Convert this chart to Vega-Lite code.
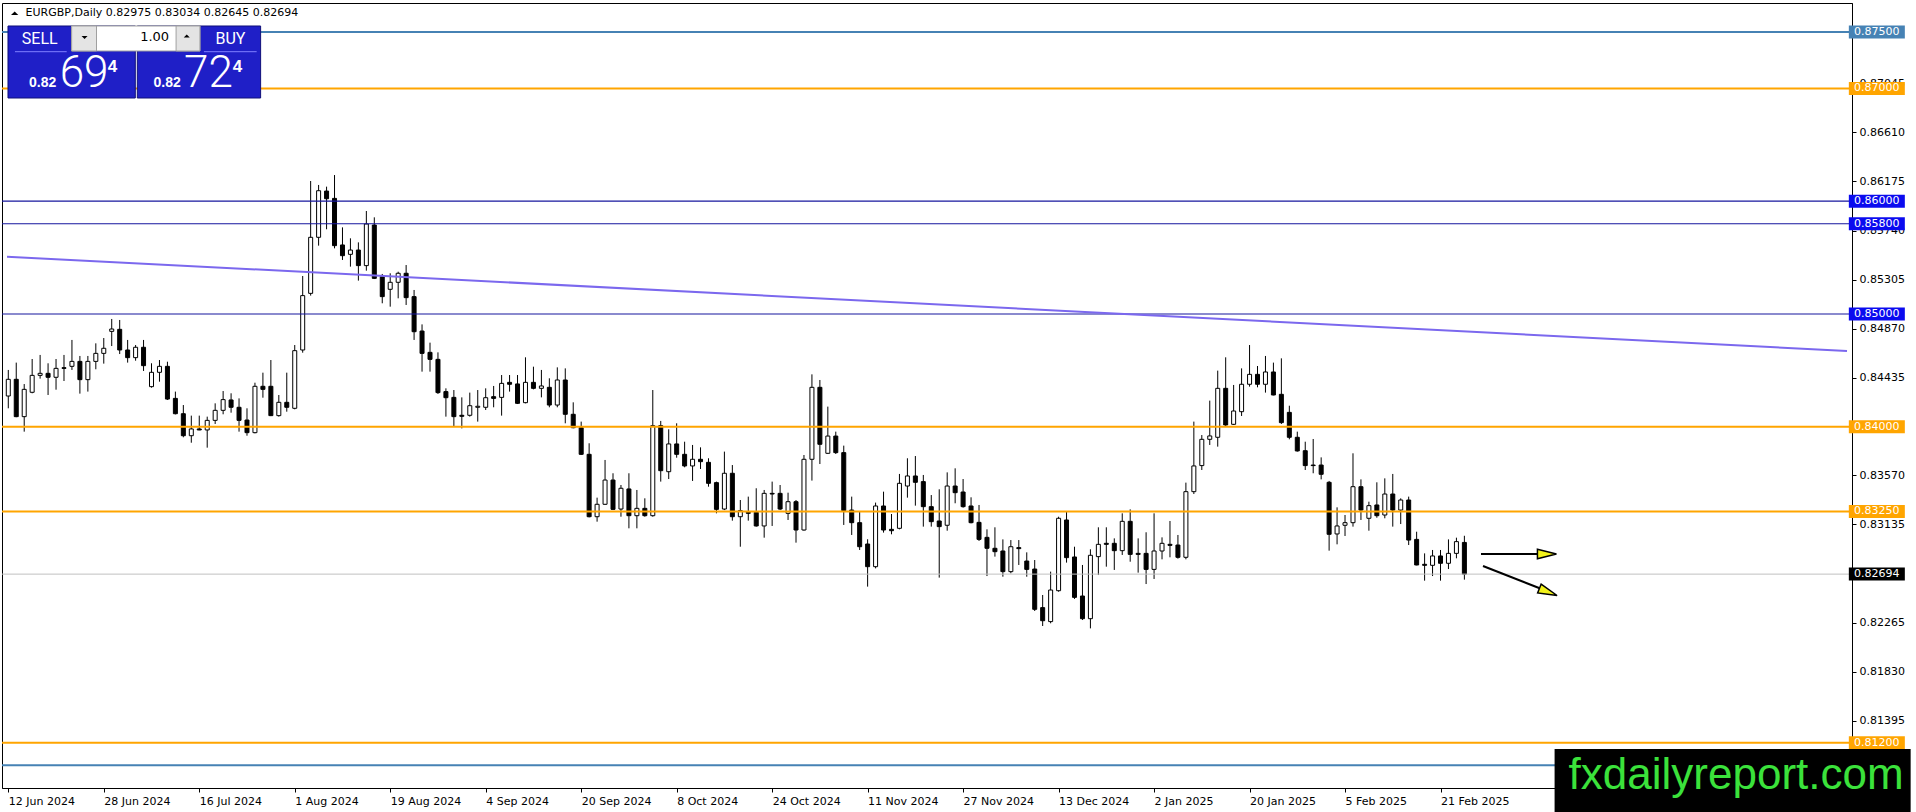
{
"$schema": "https://vega.github.io/schema/vega-lite/v6.json",
"width": 1850,
"height": 785,
"autosize": {"type": "none"},
"padding": {"left": 2, "top": 3, "right": 64, "bottom": 24},
"background": "white",
"config": {"view": {"stroke": "black", "strokeWidth": 1}, "font": "DejaVu Sans"},
"datasets": {
"candles": [
{"d":"2024-06-12","o":0.84273,"h":0.84504,"l":0.84164,"c":0.84421},
{"d":"2024-06-13","o":0.84421,"h":0.84569,"l":0.84085,"c":0.84090},
{"d":"2024-06-14","o":0.84090,"h":0.84379,"l":0.83957,"c":0.84332},
{"d":"2024-06-17","o":0.84306,"h":0.84601,"l":0.84297,"c":0.84456},
{"d":"2024-06-18","o":0.84456,"h":0.84637,"l":0.84427,"c":0.84474},
{"d":"2024-06-19","o":0.84474,"h":0.84563,"l":0.84282,"c":0.84439},
{"d":"2024-06-20","o":0.84439,"h":0.84601,"l":0.84329,"c":0.84518},
{"d":"2024-06-21","o":0.84524,"h":0.84637,"l":0.84406,"c":0.84518},
{"d":"2024-06-24","o":0.84536,"h":0.84770,"l":0.84504,"c":0.84580},
{"d":"2024-06-25","o":0.84580,"h":0.84628,"l":0.84294,"c":0.84418},
{"d":"2024-06-26","o":0.84418,"h":0.84628,"l":0.84312,"c":0.84580},
{"d":"2024-06-27","o":0.84580,"h":0.84740,"l":0.84510,"c":0.84651},
{"d":"2024-06-28","o":0.84651,"h":0.84787,"l":0.84560,"c":0.84696},
{"d":"2024-07-01","o":0.84846,"h":0.84956,"l":0.84716,"c":0.84867},
{"d":"2024-07-02","o":0.84864,"h":0.84947,"l":0.84645,"c":0.84681},
{"d":"2024-07-03","o":0.84681,"h":0.84770,"l":0.84569,"c":0.84613},
{"d":"2024-07-04","o":0.84613,"h":0.84725,"l":0.84586,"c":0.84705},
{"d":"2024-07-05","o":0.84705,"h":0.84770,"l":0.84495,"c":0.84542},
{"d":"2024-07-08","o":0.84356,"h":0.84563,"l":0.84347,"c":0.84483},
{"d":"2024-07-09","o":0.84483,"h":0.84592,"l":0.84400,"c":0.84536},
{"d":"2024-07-10","o":0.84536,"h":0.84577,"l":0.84238,"c":0.84246},
{"d":"2024-07-11","o":0.84252,"h":0.84312,"l":0.84110,"c":0.84116},
{"d":"2024-07-12","o":0.84116,"h":0.84193,"l":0.83907,"c":0.83921},
{"d":"2024-07-15","o":0.83921,"h":0.84099,"l":0.83859,"c":0.83981},
{"d":"2024-07-16","o":0.83981,"h":0.84099,"l":0.83970,"c":0.83972},
{"d":"2024-07-17","o":0.83972,"h":0.84090,"l":0.83815,"c":0.84057},
{"d":"2024-07-18","o":0.84057,"h":0.84208,"l":0.84025,"c":0.84146},
{"d":"2024-07-19","o":0.84146,"h":0.84317,"l":0.84111,"c":0.84241},
{"d":"2024-07-22","o":0.84238,"h":0.84297,"l":0.84125,"c":0.84173},
{"d":"2024-07-23","o":0.84173,"h":0.84252,"l":0.83957,"c":0.84057},
{"d":"2024-07-24","o":0.84060,"h":0.84164,"l":0.83921,"c":0.83948},
{"d":"2024-07-25","o":0.83948,"h":0.84391,"l":0.83942,"c":0.84359},
{"d":"2024-07-26","o":0.84359,"h":0.84480,"l":0.84258,"c":0.84332},
{"d":"2024-07-29","o":0.84359,"h":0.84592,"l":0.84095,"c":0.84099},
{"d":"2024-07-30","o":0.84099,"h":0.84282,"l":0.84090,"c":0.84217},
{"d":"2024-07-31","o":0.84217,"h":0.84480,"l":0.84134,"c":0.84173},
{"d":"2024-08-01","o":0.84164,"h":0.84725,"l":0.84155,"c":0.84675},
{"d":"2024-08-02","o":0.84681,"h":0.85337,"l":0.84657,"c":0.85163},
{"d":"2024-08-05","o":0.85183,"h":0.86179,"l":0.85163,"c":0.85680},
{"d":"2024-08-06","o":0.85680,"h":0.86144,"l":0.85606,"c":0.86093},
{"d":"2024-08-07","o":0.86090,"h":0.86129,"l":0.85751,"c":0.86022},
{"d":"2024-08-08","o":0.86025,"h":0.86232,"l":0.85582,"c":0.85606},
{"d":"2024-08-09","o":0.85612,"h":0.85768,"l":0.85479,"c":0.85517},
{"d":"2024-08-12","o":0.85529,"h":0.85671,"l":0.85420,"c":0.85567},
{"d":"2024-08-13","o":0.85567,"h":0.85635,"l":0.85296,"c":0.85429},
{"d":"2024-08-14","o":0.85429,"h":0.85913,"l":0.85384,"c":0.85798},
{"d":"2024-08-15","o":0.85789,"h":0.85857,"l":0.85310,"c":0.85316},
{"d":"2024-08-16","o":0.85331,"h":0.85355,"l":0.85095,"c":0.85154},
{"d":"2024-08-19","o":0.85219,"h":0.85361,"l":0.85065,"c":0.85281},
{"d":"2024-08-20","o":0.85281,"h":0.85375,"l":0.85139,"c":0.85361},
{"d":"2024-08-21","o":0.85361,"h":0.85434,"l":0.85080,"c":0.85145},
{"d":"2024-08-22","o":0.85154,"h":0.85213,"l":0.84770,"c":0.84843},
{"d":"2024-08-23","o":0.84849,"h":0.84908,"l":0.84489,"c":0.84651},
{"d":"2024-08-26","o":0.84660,"h":0.84746,"l":0.84489,"c":0.84598},
{"d":"2024-08-27","o":0.84598,"h":0.84660,"l":0.84291,"c":0.84303},
{"d":"2024-08-28","o":0.84312,"h":0.84341,"l":0.84090,"c":0.84258},
{"d":"2024-08-29","o":0.84261,"h":0.84326,"l":0.84001,"c":0.84090},
{"d":"2024-08-30","o":0.84102,"h":0.84261,"l":0.83986,"c":0.84093},
{"d":"2024-09-02","o":0.84102,"h":0.84303,"l":0.84090,"c":0.84187},
{"d":"2024-09-03","o":0.84173,"h":0.84326,"l":0.84046,"c":0.84182},
{"d":"2024-09-04","o":0.84173,"h":0.84341,"l":0.84149,"c":0.84258},
{"d":"2024-09-05","o":0.84267,"h":0.84362,"l":0.84173,"c":0.84252},
{"d":"2024-09-06","o":0.84261,"h":0.84459,"l":0.84099,"c":0.84385},
{"d":"2024-09-09","o":0.84394,"h":0.84459,"l":0.84312,"c":0.84377},
{"d":"2024-09-10","o":0.84380,"h":0.84459,"l":0.84202,"c":0.84208},
{"d":"2024-09-11","o":0.84214,"h":0.84616,"l":0.84208,"c":0.84394},
{"d":"2024-09-12","o":0.84394,"h":0.84533,"l":0.84332,"c":0.84341},
{"d":"2024-09-13","o":0.84341,"h":0.84504,"l":0.84261,"c":0.84362},
{"d":"2024-09-16","o":0.84350,"h":0.84430,"l":0.84173,"c":0.84193},
{"d":"2024-09-17","o":0.84193,"h":0.84527,"l":0.84173,"c":0.84415},
{"d":"2024-09-18","o":0.84415,"h":0.84518,"l":0.84031,"c":0.84111},
{"d":"2024-09-19","o":0.84111,"h":0.84217,"l":0.83987,"c":0.83992},
{"d":"2024-09-20","o":0.83992,"h":0.84046,"l":0.83750,"c":0.83756},
{"d":"2024-09-23","o":0.83756,"h":0.83854,"l":0.83197,"c":0.83203},
{"d":"2024-09-24","o":0.83203,"h":0.83372,"l":0.83159,"c":0.83313},
{"d":"2024-09-25","o":0.83313,"h":0.83706,"l":0.83307,"c":0.83528},
{"d":"2024-09-26","o":0.83528,"h":0.83588,"l":0.83262,"c":0.83268},
{"d":"2024-09-27","o":0.83271,"h":0.83484,"l":0.83203,"c":0.83455},
{"d":"2024-09-30","o":0.83449,"h":0.83588,"l":0.83100,"c":0.83212},
{"d":"2024-10-01","o":0.83212,"h":0.83440,"l":0.83100,"c":0.83277},
{"d":"2024-10-02","o":0.83277,"h":0.83366,"l":0.83203,"c":0.83212},
{"d":"2024-10-03","o":0.83212,"h":0.84326,"l":0.83203,"c":0.84010},
{"d":"2024-10-04","o":0.84010,"h":0.84052,"l":0.83514,"c":0.83611},
{"d":"2024-10-07","o":0.83602,"h":0.83978,"l":0.83537,"c":0.83848},
{"d":"2024-10-08","o":0.83848,"h":0.84031,"l":0.83726,"c":0.83756},
{"d":"2024-10-09","o":0.83756,"h":0.83868,"l":0.83641,"c":0.83653},
{"d":"2024-10-10","o":0.83653,"h":0.83839,"l":0.83520,"c":0.83712},
{"d":"2024-10-11","o":0.83712,"h":0.83818,"l":0.83626,"c":0.83691},
{"d":"2024-10-14","o":0.83685,"h":0.83721,"l":0.83469,"c":0.83499},
{"d":"2024-10-15","o":0.83505,"h":0.83514,"l":0.83233,"c":0.83268},
{"d":"2024-10-16","o":0.83271,"h":0.83780,"l":0.83262,"c":0.83588},
{"d":"2024-10-17","o":0.83588,"h":0.83661,"l":0.83168,"c":0.83203},
{"d":"2024-10-18","o":0.83203,"h":0.83351,"l":0.82937,"c":0.83257},
{"d":"2024-10-21","o":0.83242,"h":0.83381,"l":0.83168,"c":0.83233},
{"d":"2024-10-22","o":0.83242,"h":0.83455,"l":0.83115,"c":0.83121},
{"d":"2024-10-23","o":0.83121,"h":0.83440,"l":0.83017,"c":0.83410},
{"d":"2024-10-24","o":0.83410,"h":0.83514,"l":0.83121,"c":0.83404},
{"d":"2024-10-25","o":0.83410,"h":0.83484,"l":0.83262,"c":0.83271},
{"d":"2024-10-28","o":0.83233,"h":0.83416,"l":0.83174,"c":0.83336},
{"d":"2024-10-29","o":0.83336,"h":0.83351,"l":0.82973,"c":0.83085},
{"d":"2024-10-30","o":0.83085,"h":0.83750,"l":0.83079,"c":0.83712},
{"d":"2024-10-31","o":0.83712,"h":0.84465,"l":0.83523,"c":0.84350},
{"d":"2024-11-01","o":0.84350,"h":0.84415,"l":0.83670,"c":0.83845},
{"d":"2024-11-04","o":0.83765,"h":0.84179,"l":0.83759,"c":0.83918},
{"d":"2024-11-05","o":0.83918,"h":0.83957,"l":0.83759,"c":0.83771},
{"d":"2024-11-06","o":0.83771,"h":0.83833,"l":0.83130,"c":0.83257},
{"d":"2024-11-07","o":0.83262,"h":0.83381,"l":0.83041,"c":0.83150},
{"d":"2024-11-08","o":0.83150,"h":0.83248,"l":0.82908,"c":0.82937},
{"d":"2024-11-11","o":0.82961,"h":0.83003,"l":0.82583,"c":0.82760},
{"d":"2024-11-12","o":0.82760,"h":0.83328,"l":0.82745,"c":0.83298},
{"d":"2024-11-13","o":0.83298,"h":0.83425,"l":0.83062,"c":0.83085},
{"d":"2024-11-14","o":0.83091,"h":0.83227,"l":0.83047,"c":0.83079},
{"d":"2024-11-15","o":0.83100,"h":0.83582,"l":0.83091,"c":0.83499},
{"d":"2024-11-18","o":0.83475,"h":0.83721,"l":0.83372,"c":0.83564},
{"d":"2024-11-19","o":0.83564,"h":0.83741,"l":0.83301,"c":0.83508},
{"d":"2024-11-20","o":0.83514,"h":0.83573,"l":0.83115,"c":0.83292},
{"d":"2024-11-21","o":0.83292,"h":0.83395,"l":0.83115,"c":0.83159},
{"d":"2024-11-22","o":0.83165,"h":0.83446,"l":0.82663,"c":0.83115},
{"d":"2024-11-25","o":0.83127,"h":0.83596,"l":0.83079,"c":0.83475},
{"d":"2024-11-26","o":0.83475,"h":0.83632,"l":0.83322,"c":0.83416},
{"d":"2024-11-27","o":0.83422,"h":0.83537,"l":0.83283,"c":0.83292},
{"d":"2024-11-28","o":0.83298,"h":0.83375,"l":0.83144,"c":0.83150},
{"d":"2024-11-29","o":0.83153,"h":0.83307,"l":0.82988,"c":0.83002},
{"d":"2024-12-02","o":0.83020,"h":0.83091,"l":0.82677,"c":0.82923},
{"d":"2024-12-03","o":0.82923,"h":0.83109,"l":0.82849,"c":0.82893},
{"d":"2024-12-04","o":0.82899,"h":0.83002,"l":0.82671,"c":0.82716},
{"d":"2024-12-05","o":0.82716,"h":0.82996,"l":0.82701,"c":0.82937},
{"d":"2024-12-06","o":0.82929,"h":0.82996,"l":0.82775,"c":0.82920},
{"d":"2024-12-09","o":0.82810,"h":0.82887,"l":0.82671,"c":0.82736},
{"d":"2024-12-10","o":0.82739,"h":0.82819,"l":0.82367,"c":0.82382},
{"d":"2024-12-11","o":0.82397,"h":0.82509,"l":0.82234,"c":0.82281},
{"d":"2024-12-12","o":0.82273,"h":0.82716,"l":0.82258,"c":0.82553},
{"d":"2024-12-13","o":0.82547,"h":0.83203,"l":0.82538,"c":0.83189},
{"d":"2024-12-16","o":0.83174,"h":0.83248,"l":0.82796,"c":0.82840},
{"d":"2024-12-17","o":0.82846,"h":0.82937,"l":0.82474,"c":0.82488},
{"d":"2024-12-18","o":0.82500,"h":0.82775,"l":0.82287,"c":0.82299},
{"d":"2024-12-19","o":0.82299,"h":0.82914,"l":0.82213,"c":0.82861},
{"d":"2024-12-20","o":0.82849,"h":0.83109,"l":0.82686,"c":0.82958},
{"d":"2024-12-23","o":0.82967,"h":0.83109,"l":0.82760,"c":0.82958},
{"d":"2024-12-24","o":0.82967,"h":0.83011,"l":0.82731,"c":0.82902},
{"d":"2024-12-26","o":0.82902,"h":0.83233,"l":0.82864,"c":0.83162},
{"d":"2024-12-27","o":0.83162,"h":0.83268,"l":0.82804,"c":0.82869},
{"d":"2024-12-30","o":0.82878,"h":0.83011,"l":0.82707,"c":0.82869},
{"d":"2024-12-31","o":0.82878,"h":0.83065,"l":0.82606,"c":0.82736},
{"d":"2025-01-02","o":0.82736,"h":0.83233,"l":0.82651,"c":0.82899},
{"d":"2025-01-03","o":0.82899,"h":0.83020,"l":0.82825,"c":0.82967},
{"d":"2025-01-06","o":0.82958,"h":0.83165,"l":0.82843,"c":0.82949},
{"d":"2025-01-07","o":0.82952,"h":0.83041,"l":0.82831,"c":0.82843},
{"d":"2025-01-08","o":0.82843,"h":0.83505,"l":0.82825,"c":0.83425},
{"d":"2025-01-09","o":0.83425,"h":0.84046,"l":0.83404,"c":0.83653},
{"d":"2025-01-10","o":0.83656,"h":0.83927,"l":0.83617,"c":0.83889},
{"d":"2025-01-13","o":0.83889,"h":0.84232,"l":0.83839,"c":0.83919},
{"d":"2025-01-14","o":0.83907,"h":0.84498,"l":0.83824,"c":0.84341},
{"d":"2025-01-15","o":0.84341,"h":0.84616,"l":0.84007,"c":0.84016},
{"d":"2025-01-16","o":0.84022,"h":0.84371,"l":0.84016,"c":0.84140},
{"d":"2025-01-17","o":0.84134,"h":0.84518,"l":0.84096,"c":0.84377},
{"d":"2025-01-20","o":0.84377,"h":0.84725,"l":0.84356,"c":0.84465},
{"d":"2025-01-21","o":0.84465,"h":0.84539,"l":0.84350,"c":0.84377},
{"d":"2025-01-22","o":0.84377,"h":0.84628,"l":0.84303,"c":0.84486},
{"d":"2025-01-23","o":0.84486,"h":0.84569,"l":0.84279,"c":0.84282},
{"d":"2025-01-24","o":0.84288,"h":0.84607,"l":0.84025,"c":0.84037},
{"d":"2025-01-27","o":0.84128,"h":0.84187,"l":0.83889,"c":0.83907},
{"d":"2025-01-28","o":0.83907,"h":0.83957,"l":0.83780,"c":0.83786},
{"d":"2025-01-29","o":0.83788,"h":0.83868,"l":0.83617,"c":0.83656},
{"d":"2025-01-30","o":0.83661,"h":0.83892,"l":0.83588,"c":0.83656},
{"d":"2025-01-31","o":0.83661,"h":0.83729,"l":0.83534,"c":0.83579},
{"d":"2025-02-03","o":0.83508,"h":0.83520,"l":0.82902,"c":0.83047},
{"d":"2025-02-04","o":0.83050,"h":0.83286,"l":0.82958,"c":0.83121},
{"d":"2025-02-05","o":0.83127,"h":0.83218,"l":0.83032,"c":0.83150},
{"d":"2025-02-06","o":0.83150,"h":0.83765,"l":0.83115,"c":0.83469},
{"d":"2025-02-07","o":0.83469,"h":0.83534,"l":0.83174,"c":0.83262},
{"d":"2025-02-10","o":0.83189,"h":0.83336,"l":0.83079,"c":0.83301},
{"d":"2025-02-11","o":0.83307,"h":0.83508,"l":0.83194,"c":0.83212},
{"d":"2025-02-12","o":0.83218,"h":0.83543,"l":0.83189,"c":0.83404},
{"d":"2025-02-13","o":0.83404,"h":0.83582,"l":0.83115,"c":0.83262},
{"d":"2025-02-14","o":0.83262,"h":0.83366,"l":0.83138,"c":0.83351},
{"d":"2025-02-17","o":0.83351,"h":0.83381,"l":0.82952,"c":0.82996},
{"d":"2025-02-18","o":0.83002,"h":0.83070,"l":0.82772,"c":0.82775},
{"d":"2025-02-19","o":0.82781,"h":0.82878,"l":0.82636,"c":0.82772},
{"d":"2025-02-20","o":0.82772,"h":0.82908,"l":0.82677,"c":0.82855},
{"d":"2025-02-21","o":0.82855,"h":0.82908,"l":0.82636,"c":0.82790},
{"d":"2025-02-24","o":0.82790,"h":0.83002,"l":0.82739,"c":0.82878},
{"d":"2025-02-25","o":0.82878,"h":0.83017,"l":0.82834,"c":0.82982},
{"d":"2025-02-26","o":0.82975,"h":0.83034,"l":0.82645,"c":0.82694}
]
},
"layer": [
{
"data": {"name": "candles"},
"transform": [{"window": [{"op": "row_number", "as": "i"}]}],
"layer": [
{
"mark": {"type": "rule", "color": "black", "strokeWidth": 1},
"encoding": {
"x": {"field": "i", "type": "quantitative", "title": null, "scale": {"domain": [0.8375, 232.0875], "nice": false, "zero": false},
"axis": {"values": [1,13,25,37,49,61,73,85,97,109,121,133,145,157,169,181],
"labelExpr": "['12 Jun 2024','28 Jun 2024','16 Jul 2024','1 Aug 2024','19 Aug 2024','4 Sep 2024','20 Sep 2024','8 Oct 2024','24 Oct 2024','11 Nov 2024','27 Nov 2024','13 Dec 2024','2 Jan 2025','20 Jan 2025','5 Feb 2025','21 Feb 2025'][round((datum.value-1)/12)]",
"labelAlign": "left", "labelBaseline": "top", "labelPadding": 3, "tickSize": 4, "tickColor": "black", "domainColor": "black", "labelColor": "black", "labelFont": "DejaVu Sans", "labelFontSize": 11, "labelOverlap": false, "labelFlush": false, "labelBound": false, "grid": false, "title": null, "zindex": 0}},
"y": {"field": "l", "type": "quantitative", "title": null, "scale": {"domain": [0.807979, 0.877571], "nice": false, "zero": false},
"axis": {"orient": "right", "values": [0.87045,0.8661,0.86175,0.8574,0.85305,0.8487,0.84435,0.8357,0.83135,0.82265,0.8183,0.81395],
"format": ".5f", "labelFont": "DejaVu Sans", "labelFontSize": 11, "labelColor": "black", "tickColor": "black", "tickSize": 4, "domainColor": "black", "labelPadding": 3, "grid": false, "title": null, "labelOverlap": false, "labelFlush": false, "zindex": 0}},
"y2": {"field": "h"}
}
},
{
"mark": {"type": "bar", "width": 4, "stroke": "black", "strokeWidth": 1},
"encoding": {
"x": {"field": "i", "type": "quantitative", "title": null},
"y": {"field": "o", "type": "quantitative", "title": null},
"y2": {"field": "c"},
"fill": {"condition": {"test": "datum.c >= datum.o", "value": "white"}, "value": "black"}
}
}
]
},
{
"data": {"values": [{"p": 0.875}, {"p": 0.81}]},
"mark": {"type": "rule", "color": "#4682b4", "strokeWidth": 2},
"encoding": {"y": {"field": "p", "type": "quantitative", "title": null}}
},
{
"data": {"values": [{"p": 0.87}, {"p": 0.84}, {"p": 0.8325}, {"p": 0.812}]},
"mark": {"type": "rule", "color": "#ffa500", "strokeWidth": 2},
"encoding": {"y": {"field": "p", "type": "quantitative", "title": null}}
},
{
"data": {"values": [{"p": 0.86}, {"p": 0.858}, {"p": 0.85}]},
"mark": {"type": "rule", "color": "#16169e", "strokeWidth": 1.2},
"encoding": {"y": {"field": "p", "type": "quantitative", "title": null}}
},
{
"data": {"values": [{"p": 0.82694}]},
"mark": {"type": "rule", "color": "#c0c0c0", "strokeWidth": 1},
"encoding": {"y": {"field": "p", "type": "quantitative", "title": null}}
},
{
"data": {"values": [{}]},
"mark": {"type": "rule", "color": "#7b68ee", "strokeWidth": 2},
"encoding": {
"x": {"datum": 0.8375, "type": "quantitative", "title": null}, "x2": {"datum": 232.0875},
"y": {"datum": 0.85508, "type": "quantitative", "title": null}, "y2": {"datum": 0.84672}
}
},
{
"data": {"values": [{}]},
"mark": {"type": "rule", "color": "black", "strokeWidth": 2},
"encoding": {
"x": {"datum": 186.0875, "type": "quantitative", "title": null}, "x2": {"datum": 193.7125},
"y": {"datum": 0.828724, "type": "quantitative", "title": null}, "y2": {"datum": 0.828724}
}
},
{
"data": {"values": [{}]},
"mark": {"type": "rule", "color": "black", "strokeWidth": 2},
"encoding": {
"x": {"datum": 186.3375, "type": "quantitative", "title": null}, "x2": {"datum": 193.4625},
"y": {"datum": 0.82766, "type": "quantitative", "title": null}, "y2": {"datum": 0.825683}
}
},
{
"data": {"values": [{}]},
"mark": {"type": "point", "shape": "M -1 -0.5 L 1 0 L -1 0.5 Z", "size": 361, "filled": true, "fill": "#f2f21a", "stroke": "black", "strokeWidth": 1.5, "opacity": 1},
"encoding": {
"x": {"datum": 194.375, "type": "quantitative", "title": null},
"y": {"datum": 0.828724, "type": "quantitative", "title": null}
}
},
{
"data": {"values": [{}]},
"mark": {"type": "point", "shape": "M -1 -0.5 L 1 0 L -1 0.5 Z", "size": 361, "angle": 21.6, "filled": true, "fill": "#f2f21a", "stroke": "black", "strokeWidth": 1.5, "opacity": 1},
"encoding": {
"x": {"datum": 194.5375, "type": "quantitative", "title": null},
"y": {"datum": 0.825355, "type": "quantitative", "title": null}
}
},
{
"data": {"values": [{"p": 0.875}]},
"mark": {"type": "point", "shape": "M -1 -0.232 L 1 -0.232 L 1 0.232 L -1 0.232 Z", "size": 3136, "filled": true, "color": "#4682b4", "opacity": 1, "strokeWidth": 0},
"encoding": {"x": {"datum": 235.8375, "type": "quantitative", "title": null}, "y": {"field": "p", "type": "quantitative", "title": null}}
},
{
"data": {"values": [{"p": 0.87}, {"p": 0.84}, {"p": 0.8325}, {"p": 0.812}]},
"mark": {"type": "point", "shape": "M -1 -0.232 L 1 -0.232 L 1 0.232 L -1 0.232 Z", "size": 3136, "filled": true, "color": "#ffa500", "opacity": 1, "strokeWidth": 0},
"encoding": {"x": {"datum": 235.8375, "type": "quantitative", "title": null}, "y": {"field": "p", "type": "quantitative", "title": null}}
},
{
"data": {"values": [{"p": 0.86}, {"p": 0.858}, {"p": 0.85}]},
"mark": {"type": "point", "shape": "M -1 -0.232 L 1 -0.232 L 1 0.232 L -1 0.232 Z", "size": 3136, "filled": true, "color": "#0b0bef", "opacity": 1, "strokeWidth": 0},
"encoding": {"x": {"datum": 235.8375, "type": "quantitative", "title": null}, "y": {"field": "p", "type": "quantitative", "title": null}}
},
{
"data": {"values": [{"p": 0.82694}]},
"mark": {"type": "point", "shape": "M -1 -0.232 L 1 -0.232 L 1 0.232 L -1 0.232 Z", "size": 3136, "filled": true, "color": "#000000", "opacity": 1, "strokeWidth": 0},
"encoding": {"x": {"datum": 235.8375, "type": "quantitative", "title": null}, "y": {"field": "p", "type": "quantitative", "title": null}}
},
{
"data": {"values": [{"p": 0.875}, {"p": 0.87}, {"p": 0.86}, {"p": 0.858}, {"p": 0.85}, {"p": 0.84}, {"p": 0.8325}, {"p": 0.82694}, {"p": 0.812}]},
"mark": {"type": "text", "align": "left", "baseline": "middle", "color": "white", "font": "DejaVu Sans", "fontSize": 11},
"encoding": {
"x": {"datum": 232.9625, "type": "quantitative", "title": null},
"y": {"field": "p", "type": "quantitative", "title": null},
"text": {"field": "p", "type": "quantitative", "format": ".5f"}
}
},
{
"data": {"values": [{}]},
"mark": {"type": "text", "text": "EURGBP,Daily  0.82975 0.83034 0.82645 0.82694", "align": "left", "baseline": "middle", "color": "black", "font": "DejaVu Sans", "fontSize": 11},
"encoding": {"x": {"datum": 3.175, "type": "quantitative", "title": null}, "y": {"datum": 0.876658, "type": "quantitative", "title": null}}
},
{
"data": {"values": [{}]},
"mark": {"type": "point", "shape": "M -1 0.5 L 1 0.5 L 0 -0.5 Z", "size": 53, "filled": true, "color": "black", "opacity": 1},
"encoding": {"x": {"datum": 1.8, "type": "quantitative", "title": null}, "y": {"datum": 0.876658, "type": "quantitative", "title": null}}
},
{
"data": {"values": [{}]},
"mark": {"type": "rect", "color": "#1f1fc7", "stroke": "#10107a", "strokeWidth": 1},
"encoding": {
"x": {"datum": 0.9625, "type": "quantitative", "title": null}, "x2": {"datum": 16.9625},
"y": {"datum": 0.875532, "type": "quantitative", "title": null}, "y2": {"datum": 0.869149}
}
},
{
"data": {"values": [{}]},
"mark": {"type": "rect", "color": "#1f1fc7", "stroke": "#10107a", "strokeWidth": 1},
"encoding": {
"x": {"datum": 17.2125, "type": "quantitative", "title": null}, "x2": {"datum": 32.7125},
"y": {"datum": 0.875532, "type": "quantitative", "title": null}, "y2": {"datum": 0.869149}
}
},
{
"data": {"values": [{}]},
"mark": {"type": "rect", "color": "white", "stroke": "#a0a0a0", "strokeWidth": 1},
"encoding": {
"x": {"datum": 8.9625, "type": "quantitative", "title": null}, "x2": {"datum": 25.0875},
"y": {"datum": 0.875532, "type": "quantitative", "title": null}, "y2": {"datum": 0.873316}
}
},
{
"data": {"values": [{}]},
"mark": {"type": "rect", "color": "#e4e4e4", "stroke": "#a0a0a0", "strokeWidth": 1},
"encoding": {
"x": {"datum": 8.9625, "type": "quantitative", "title": null}, "x2": {"datum": 12.0875},
"y": {"datum": 0.875532, "type": "quantitative", "title": null}, "y2": {"datum": 0.873316}
}
},
{
"data": {"values": [{}]},
"mark": {"type": "rect", "color": "#e4e4e4", "stroke": "#a0a0a0", "strokeWidth": 1},
"encoding": {
"x": {"datum": 22.0875, "type": "quantitative", "title": null}, "x2": {"datum": 25.0875},
"y": {"datum": 0.875532, "type": "quantitative", "title": null}, "y2": {"datum": 0.873316}
}
},
{
"data": {"values": [{}]},
"mark": {"type": "point", "shape": "M -1 -0.5 L 1 -0.5 L 0 0.5 Z", "size": 36, "filled": true, "color": "black", "opacity": 1},
"encoding": {"x": {"datum": 10.5875, "type": "quantitative", "title": null}, "y": {"datum": 0.874513, "type": "quantitative", "title": null}}
},
{
"data": {"values": [{}]},
"mark": {"type": "point", "shape": "M -1 0.5 L 1 0.5 L 0 -0.5 Z", "size": 36, "filled": true, "color": "black", "opacity": 1},
"encoding": {"x": {"datum": 23.425, "type": "quantitative", "title": null}, "y": {"datum": 0.874646, "type": "quantitative", "title": null}}
},
{
"data": {"values": [{}]},
"mark": {"type": "text", "text": "1.00", "align": "right", "baseline": "middle", "color": "black", "font": "DejaVu Sans", "fontSize": 13},
"encoding": {"x": {"datum": 21.2125, "type": "quantitative", "title": null}, "y": {"datum": 0.874557, "type": "quantitative", "title": null}}
},
{
"data": {"values": [{}]},
"mark": {"type": "rule", "color": "#8080ff", "strokeWidth": 1},
"encoding": {
"x": {"datum": 1.8375, "type": "quantitative", "title": null}, "x2": {"datum": 8.3375},
"y": {"datum": 0.873254, "type": "quantitative", "title": null}, "y2": {"datum": 0.873254}
}
},
{
"data": {"values": [{}]},
"mark": {"type": "rule", "color": "#8080ff", "strokeWidth": 1},
"encoding": {
"x": {"datum": 25.5875, "type": "quantitative", "title": null}, "x2": {"datum": 32.2125},
"y": {"datum": 0.873254, "type": "quantitative", "title": null}, "y2": {"datum": 0.873254}
}
},
{
"data": {"values": [{}]},
"mark": {"type": "text", "text": "SELL", "align": "center", "baseline": "middle", "color": "white", "font": "Liberation Sans Narrow, Roboto", "fontSize": 16},
"encoding": {"x": {"datum": 4.95, "type": "quantitative", "title": null}, "y": {"datum": 0.87438, "type": "quantitative", "title": null}}
},
{
"data": {"values": [{}]},
"mark": {"type": "text", "text": "BUY", "align": "center", "baseline": "middle", "color": "white", "font": "Liberation Sans Narrow, Roboto", "fontSize": 16},
"encoding": {"x": {"datum": 28.925, "type": "quantitative", "title": null}, "y": {"datum": 0.87438, "type": "quantitative", "title": null}}
},
{
"data": {"values": [{}]},
"mark": {"type": "text", "text": "0.82", "align": "left", "baseline": "alphabetic", "color": "white", "font": "Liberation Sans", "fontWeight": "bold", "fontSize": 14},
"encoding": {"x": {"datum": 3.6, "type": "quantitative", "title": null}, "y": {"datum": 0.870098, "type": "quantitative", "title": null}}
},
{
"data": {"values": [{}]},
"mark": {"type": "text", "text": "69", "align": "left", "baseline": "alphabetic", "color": "white", "font": "Liberation Sans Narrow, Roboto", "fontWeight": 300, "fontSize": 44},
"encoding": {"x": {"datum": 7.4625, "type": "quantitative", "title": null}, "y": {"datum": 0.870098, "type": "quantitative", "title": null}}
},
{
"data": {"values": [{}]},
"mark": {"type": "text", "text": "4", "align": "left", "baseline": "alphabetic", "color": "white", "font": "Liberation Sans", "fontWeight": "bold", "fontSize": 17},
"encoding": {"x": {"datum": 13.5, "type": "quantitative", "title": null}, "y": {"datum": 0.871481, "type": "quantitative", "title": null}}
},
{
"data": {"values": [{}]},
"mark": {"type": "text", "text": "0.82", "align": "left", "baseline": "alphabetic", "color": "white", "font": "Liberation Sans", "fontWeight": "bold", "fontSize": 14},
"encoding": {"x": {"datum": 19.25, "type": "quantitative", "title": null}, "y": {"datum": 0.870098, "type": "quantitative", "title": null}}
},
{
"data": {"values": [{}]},
"mark": {"type": "text", "text": "72", "align": "left", "baseline": "alphabetic", "color": "white", "font": "Liberation Sans Narrow, Roboto", "fontWeight": 300, "fontSize": 44},
"encoding": {"x": {"datum": 23.0875, "type": "quantitative", "title": null}, "y": {"datum": 0.870098, "type": "quantitative", "title": null}}
},
{
"data": {"values": [{}]},
"mark": {"type": "text", "text": "4", "align": "left", "baseline": "alphabetic", "color": "white", "font": "Liberation Sans", "fontWeight": "bold", "fontSize": 17},
"encoding": {"x": {"datum": 29.2, "type": "quantitative", "title": null}, "y": {"datum": 0.871481, "type": "quantitative", "title": null}}
},
{
"data": {"values": [{}]},
"mark": {"type": "rect", "color": "black"},
"encoding": {
"x": {"datum": 195.3375, "type": "quantitative", "title": null}, "x2": {"datum": 240.0875},
"y": {"datum": 0.811436, "type": "quantitative", "title": null}, "y2": {"datum": 0.805851}
}
},
{
"data": {"values": [{}]},
"mark": {"type": "text", "text": "fxdailyreport.com", "align": "left", "baseline": "alphabetic", "color": "#3be23b", "font": "Liberation Sans", "fontSize": 44},
"encoding": {"x": {"datum": 197.1, "type": "quantitative", "title": null}, "y": {"datum": 0.80789, "type": "quantitative", "title": null}}
}
]
}
